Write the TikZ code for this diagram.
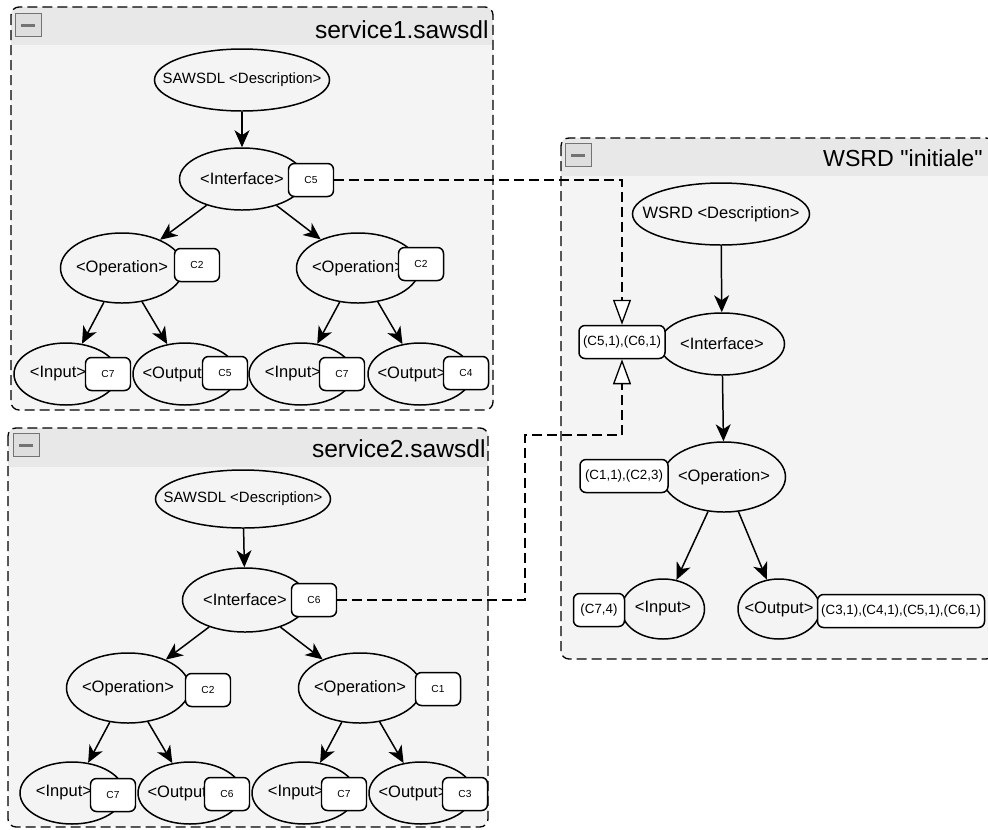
\documentclass[tikz,border=0pt]{standalone}
\usepackage{fontspec}
\setmainfont{Liberation Sans}
\usetikzlibrary{shapes.geometric,arrows.meta,backgrounds}
\definecolor{panelbg}{RGB}{244,244,244}
\definecolor{headbg}{RGB}{232,232,232}
\definecolor{togglebg}{RGB}{222,222,222}
\newcommand{\thickness}{0.85pt}
\newcommand{\dashthickness}{0.75pt}
\newcommand{\radius}{1.6mm}
\newcommand{\ctr}[1]{\makebox[0pt]{#1}}
\newcommand{\lctr}[1]{\makebox[0pt]{\hspace*{-3.2mm}#1}}
\tikzset{
  elem/.style={ellipse, draw, line width=\thickness, fill=panelbg, inner sep=0pt,
    minimum width=20.8mm, minimum height=12.4mm, font=\fontsize{9.4}{11}\selectfont},
  desc/.style={minimum width=35mm, minimum height=12.4mm},
  smalldesc/.style={font=\fontsize{8.5}{10}\selectfont},
  iface/.style={minimum width=25mm, minimum height=12.4mm},
  oper/.style={minimum width=24.6mm, minimum height=14mm},
  tag/.style={draw, fill=white, line width=\thickness, rounded corners=1.2mm, inner sep=0.5mm,
    minimum width=9mm, minimum height=6.6mm, font=\fontsize{5.8}{7}\selectfont},
  wtag/.style={tag, font=\fontsize{7.6}{9}\selectfont},
  title/.style={anchor=base east, inner sep=0pt, font=\fontsize{14}{16}\selectfont},
  toggle/.style={draw=black!55, fill=togglebg, line width=0.4pt, inner sep=0pt,
    minimum width=5.2mm, minimum height=4.6mm,
    path picture={\draw[line width=0.6mm] ([xshift=-1.4mm]path picture bounding box.center)
      -- ([xshift=1.4mm]path picture bounding box.center);}},
  child/.style={draw, line width=\thickness, -{Stealth[length=3.4mm, width=3mm, inset=1mm]}},
  link/.style={draw, line width=\dashthickness, dash pattern=on 2mm off 1mm,
    -{Triangle[length=5mm, width=3.6mm, fill=white, line width=\dashthickness]}},
  border/.style={draw, line width=\dashthickness, dash pattern=on 2mm off 1mm, rounded corners=\radius}
}

\begin{document}
\begin{tikzpicture}[x=0.2mm, y=-0.2mm]
\useasboundingbox (0, 0) rectangle (988, 829);
%service1
\node (m1) at (28, 25) [toggle] {};
\node (t1) at (489, 38) [title] {service1.sawsdl};
\node (d1) at (242, 80) [elem, desc, smalldesc] {\ctr{SAWSDL <Description>}};
\node (i1) at (242, 179) [elem, iface] {\ctr{<Interface>}};
\node (o1) at (122, 268) [elem, oper] {\ctr{<Operation>}};
\node (o2) at (358, 268) [elem, oper] {\ctr{<Operation>}};
\node (in1) at (66, 374) [elem] {\lctr{<Input>}};
\node (out1) at (185, 374) [elem] {\lctr{<Output>}};
\node (in2) at (301, 374) [elem] {\lctr{<Input>}};
\node (out2) at (420, 374) [elem] {\lctr{<Output>}};
\node (k1) at (311, 180) [tag] {C5};
\node (k2) at (197, 265) [tag] {C2};
\node (k3) at (421, 264) [tag] {C2};
\node (k4) at (108, 374) [tag] {C7};
\node (k5) at (225, 373) [tag] {C5};
\node (k6) at (342, 374) [tag] {C7};
\node (k7) at (466, 373) [tag] {C4};
\draw[child] (d1) -- (i1);
\draw[child] (i1) -- (o1);
\draw[child] (i1) -- (o2);
\draw[child] (o1) -- (in1);
\draw[child] (o1) -- (out1);
\draw[child] (o2) -- (in2);
\draw[child] (o2) -- (out2);
%service2
\node (m2) at (26, 445) [toggle] {};
\node (t2) at (486, 457) [title] {service2.sawsdl};
\node (d2) at (243, 499) [elem, desc, smalldesc, minimum height=11.6mm] {\ctr{SAWSDL <Description>}};
\node (i2) at (245, 600) [elem, iface, minimum height=12.8mm] {\ctr{<Interface>}};
\node (o3) at (128, 688) [elem, oper] {\ctr{<Operation>}};
\node (o4) at (360, 688) [elem, oper] {\ctr{<Operation>}};
\node (in3) at (72, 793) [elem] {\lctr{<Input>}};
\node (out3) at (190, 793) [elem] {\lctr{<Output>}};
\node (in4) at (304, 793) [elem] {\lctr{<Input>}};
\node (out4) at (421, 793) [elem] {\lctr{<Output>}};
\node (k8) at (314, 600) [tag] {C6};
\node (k9) at (208, 690) [tag] {C2};
\node (k10) at (438, 689) [tag] {C1};
\node (k11) at (113, 795) [tag] {C7};
\node (k12) at (227, 794) [tag] {C6};
\node (k13) at (344, 794) [tag] {C7};
\node (k14) at (465, 794) [tag] {C3};
\draw[child] (d2) -- (i2);
\draw[child] (i2) -- (o3);
\draw[child] (i2) -- (o4);
\draw[child] (o3) -- (in3);
\draw[child] (o3) -- (out3);
\draw[child] (o4) -- (in4);
\draw[child] (o4) -- (out4);
%wsrd
\node (m3) at (578, 155) [toggle] {};
\node (t3) at (983, 166) [title, font=\fontsize{13.2}{15}\selectfont] {WSRD \textquotedbl initiale\textquotedbl};
\node (d3) at (721, 214) [elem, desc, minimum width=35.4mm] {\ctr{WSRD <Description>}};
\node (i3) at (722, 344) [elem, iface] {\ctr{<Interface>}};
\node (o5) at (724, 477) [elem, oper] {\ctr{<Operation>}};
\node (in5) at (663, 609) [elem, minimum width=16.6mm, minimum height=12mm] {\ctr{<Input>}};
\node (out5) at (779, 609) [elem, minimum width=16.4mm, minimum height=12mm] {\ctr{<Output>}};
\node (s1) at (622, 342) [wtag, minimum width=17.2mm] {(C5,1),(C6,1)};
\node (s2) at (624, 476) [wtag, minimum width=17.6mm] {(C1,1),(C2,3)};
\node (s3) at (599, 610) [wtag, minimum width=10.2mm] {(C7,4)};
\node (s4) at (901, 611) [wtag, minimum width=33.4mm] {(C3,1),(C4,1),(C5,1),(C6,1)};
\draw[child] (d3) -- (i3);
\draw[child] (i3) -- (o5);
\draw[child] (o5) -- (in5);
\draw[child] (o5) -- (out5);
%links
\coordinate (b1) at (525, 435);
\draw[link] (k1.east) -| (s1.north);
\draw[link] (k8.east) -| (b1) -| (s1.south);
%panels
\begin{scope}[on background layer]
\begin{scope}
\clip[rounded corners=\radius] (11, 7) rectangle (493, 410);
\fill[panelbg] (11, 7) rectangle (493, 410);
\fill[headbg] (11, 7) rectangle (493, 45);
\end{scope}
\draw[border] (11, 7) rectangle (493, 410);
\end{scope}
\begin{scope}[on background layer]
\begin{scope}
\clip[rounded corners=\radius] (8, 428) rectangle (488, 827);
\fill[panelbg] (8, 428) rectangle (488, 827);
\fill[headbg] (8, 428) rectangle (488, 467);
\end{scope}
\draw[border] (8, 428) rectangle (488, 827);
\end{scope}
\begin{scope}[on background layer]
\begin{scope}
\clip[rounded corners=\radius] (561, 138) rectangle (994, 659);
\fill[panelbg] (561, 138) rectangle (994, 659);
\fill[headbg] (561, 138) rectangle (994, 176);
\end{scope}
\draw[border] (561, 138) rectangle (994, 659);
\end{scope}
\end{tikzpicture}
\end{document}
